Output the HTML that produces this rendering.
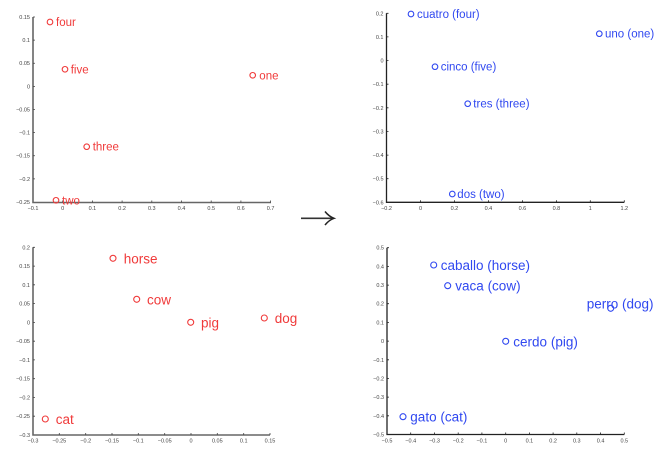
<!DOCTYPE html>
<html><head><meta charset="utf-8"><style>
html,body{margin:0;padding:0;background:#fff;}
svg{display:block;}
.t{font-family:"Liberation Sans",sans-serif;font-size:5.5px;fill:#444;}
.r{font-family:"Liberation Sans",sans-serif;font-size:11.5px;fill:#f03a3a;}
.b{font-family:"Liberation Sans",sans-serif;font-size:11.5px;fill:#3048f0;}
.R{font-family:"Liberation Sans",sans-serif;font-size:13.5px;fill:#f03a3a;}
.B{font-family:"Liberation Sans",sans-serif;font-size:13.5px;fill:#3048f0;}
.cr{fill:none;stroke:#f03a3a;stroke-width:1.1;}
.cb{fill:none;stroke:#3048f0;stroke-width:1.1;}
</style></head><body>
<svg width="671" height="468" viewBox="0 0 671 468" xmlns="http://www.w3.org/2000/svg">
<!-- Panel 1 -->
<g>
<path d="M33,17V202.5H271" fill="none" stroke="#666" stroke-width="1.6"/>
<path d="M62.7,202.5v-2M92.4,202.5v-2M122.1,202.5v-2M151.8,202.5v-2M181.5,202.5v-2M211.2,202.5v-2M240.9,202.5v-2M270.6,202.5v-2M33,17h2M33,40.1h2M33,63.25h2M33,86.4h2M33,109.5h2M33,132.6h2M33,155.75h2M33,178.9h2" stroke="#444" stroke-width="0.8"/>
<g class="t" text-anchor="end">
<text x="30" y="19">0.15</text><text x="30" y="42.1">0.1</text><text x="30" y="65.2">0.05</text><text x="30" y="88.4">0</text><text x="30" y="111.5">−0.05</text><text x="30" y="134.6">−0.1</text><text x="30" y="157.7">−0.15</text><text x="30" y="180.9">−0.2</text><text x="30" y="204">−0.25</text>
</g>
<g class="t" text-anchor="middle">
<text x="33" y="210">−0.1</text><text x="62.7" y="210">0</text><text x="92.4" y="210">0.1</text><text x="122.1" y="210">0.2</text><text x="151.8" y="210">0.3</text><text x="181.5" y="210">0.4</text><text x="211.2" y="210">0.5</text><text x="240.9" y="210">0.6</text><text x="270.6" y="210">0.7</text>
</g>
<circle class="cr" cx="50" cy="22" r="2.8"/><text class="r" x="56" y="26">four</text>
<circle class="cr" cx="65" cy="69.3" r="2.8"/><text class="r" x="70.7" y="73.3">five</text>
<circle class="cr" cx="252.7" cy="75.3" r="2.8"/><text class="r" x="259.3" y="79.3">one</text>
<circle class="cr" cx="86.7" cy="146.7" r="2.8"/><text class="r" x="92.7" y="150.7">three</text>
<circle class="cr" cx="56" cy="200.3" r="2.8"/><text class="r" x="62" y="204.3">two</text>
</g>

<!-- Arrow -->
<path d="M301,218.3H332" stroke="#333" stroke-width="1.6"/>
<path d="M325,211.5Q329,216.5 334,218.3Q329,220 325,225" fill="none" stroke="#222" stroke-width="1.5"/>

<!-- Panel 2 -->
<g>
<path d="M386.5,13.3V202.3H624.3" fill="none" stroke="#222" stroke-width="1.3"/>
<path d="M420.5,202.3v-2M454.4,202.3v-2M488.4,202.3v-2M522.4,202.3v-2M556.4,202.3v-2M590.3,202.3v-2M624.3,202.3v-2M386.5,13.3h2M386.5,36.9h2M386.5,60.6h2M386.5,84.2h2M386.5,107.8h2M386.5,131.4h2M386.5,155.1h2M386.5,178.7h2" stroke="#222" stroke-width="0.8"/>
<g class="t" text-anchor="end">
<text x="383.5" y="15.3">0.2</text><text x="383.5" y="38.9">0.1</text><text x="383.5" y="62.6">0</text><text x="383.5" y="86.2">−0.1</text><text x="383.5" y="109.8">−0.2</text><text x="383.5" y="133.4">−0.3</text><text x="383.5" y="157.1">−0.4</text><text x="383.5" y="180.7">−0.5</text><text x="383.5" y="204.3">−0.6</text>
</g>
<g class="t" text-anchor="middle">
<text x="386.5" y="209.8">−0.2</text><text x="420.5" y="209.8">0</text><text x="454.4" y="209.8">0.2</text><text x="488.4" y="209.8">0.4</text><text x="522.4" y="209.8">0.6</text><text x="556.4" y="209.8">0.8</text><text x="590.3" y="209.8">1</text><text x="624.3" y="209.8">1.2</text>
</g>
<circle class="cb" cx="411" cy="14" r="2.8"/><text class="b" x="417" y="18">cuatro (four)</text>
<circle class="cb" cx="599.3" cy="33.7" r="2.8"/><text class="b" x="605" y="37.7">uno (one)</text>
<circle class="cb" cx="435" cy="66.7" r="2.8"/><text class="b" x="440.7" y="70.7">cinco (five)</text>
<circle class="cb" cx="467.7" cy="103.7" r="2.8"/><text class="b" x="473.3" y="107.7">tres (three)</text>
<circle class="cb" cx="452.3" cy="194" r="2.8"/><text class="b" x="457.3" y="198">dos (two)</text>
</g>

<!-- Panel 3 -->
<g>
<path d="M33,247.3V435H270" fill="none" stroke="#666" stroke-width="1.6"/>
<path d="M59.3,435v-2M85.7,435v-2M112,435v-2M138.3,435v-2M164.7,435v-2M191,435v-2M217.3,435v-2M243.7,435v-2M270,435v-2M33,247.3h2M33,266.1h2M33,284.8h2M33,303.6h2M33,322.4h2M33,341.2h2M33,359.9h2M33,378.7h2M33,397.5h2M33,416.2h2" stroke="#444" stroke-width="0.8"/>
<g class="t" text-anchor="end">
<text x="30" y="249.3">0.2</text><text x="30" y="268.1">0.15</text><text x="30" y="286.8">0.1</text><text x="30" y="305.6">0.05</text><text x="30" y="324.4">0</text><text x="30" y="343.2">−0.05</text><text x="30" y="361.9">−0.1</text><text x="30" y="380.7">−0.15</text><text x="30" y="399.5">−0.2</text><text x="30" y="418.2">−0.25</text><text x="30" y="437">−0.3</text>
</g>
<g class="t" text-anchor="middle">
<text x="33" y="442.5">−0.3</text><text x="59.3" y="442.5">−0.25</text><text x="85.7" y="442.5">−0.2</text><text x="112" y="442.5">−0.15</text><text x="138.3" y="442.5">−0.1</text><text x="164.7" y="442.5">−0.05</text><text x="191" y="442.5">0</text><text x="217.3" y="442.5">0.05</text><text x="243.7" y="442.5">0.1</text><text x="270" y="442.5">0.15</text>
</g>
<circle class="cr" cx="113" cy="258.3" r="3"/><text class="R" x="123.7" y="263.3">horse</text>
<circle class="cr" cx="136.7" cy="299.3" r="3"/><text class="R" x="147" y="304.3">cow</text>
<circle class="cr" cx="190.7" cy="322.3" r="3"/><text class="R" x="201" y="327.3">pig</text>
<circle class="cr" cx="264.3" cy="318" r="3"/><text class="R" x="274.7" y="323">dog</text>
<circle class="cr" cx="45.3" cy="419" r="3"/><text class="R" x="55.7" y="424">cat</text>
</g>

<!-- Panel 4 -->
<g>
<path d="M387,247.7V434.5H624.3" fill="none" stroke="#222" stroke-width="1.3"/>
<path d="M410.7,434.5v-2M434.5,434.5v-2M458.2,434.5v-2M481.9,434.5v-2M505.7,434.5v-2M529.4,434.5v-2M553.1,434.5v-2M576.8,434.5v-2M600.6,434.5v-2M624.3,434.5v-2M387,247.7h2M387,266.4h2M387,285.1h2M387,303.7h2M387,322.4h2M387,341.1h2M387,359.8h2M387,378.5h2M387,397.1h2M387,415.8h2" stroke="#222" stroke-width="0.8"/>
<g class="t" text-anchor="end">
<text x="384" y="249.7">0.5</text><text x="384" y="268.4">0.4</text><text x="384" y="287.1">0.3</text><text x="384" y="305.7">0.2</text><text x="384" y="324.4">0.1</text><text x="384" y="343.1">0</text><text x="384" y="361.8">−0.1</text><text x="384" y="380.5">−0.2</text><text x="384" y="399.1">−0.3</text><text x="384" y="417.8">−0.4</text><text x="384" y="436.5">−0.5</text>
</g>
<g class="t" text-anchor="middle">
<text x="387" y="442.5">−0.5</text><text x="410.7" y="442.5">−0.4</text><text x="434.5" y="442.5">−0.3</text><text x="458.2" y="442.5">−0.2</text><text x="481.9" y="442.5">−0.1</text><text x="505.7" y="442.5">0</text><text x="529.4" y="442.5">0.1</text><text x="553.1" y="442.5">0.2</text><text x="576.8" y="442.5">0.3</text><text x="600.6" y="442.5">0.4</text><text x="624.3" y="442.5">0.5</text>
</g>
<circle class="cb" cx="433.7" cy="265" r="3"/><text class="B" x="440.7" y="270">caballo (horse)</text>
<circle class="cb" cx="447.7" cy="285.7" r="3"/><text class="B" x="455.3" y="290.7">vaca (cow)</text>
<circle class="cb" cx="505.7" cy="341.3" r="3"/><text class="B" x="513.3" y="346.3">cerdo (pig)</text>
<circle class="cb" cx="610.7" cy="308.3" r="3"/><text class="B" x="586.7" y="308.3">perro (dog)</text>
<circle class="cb" cx="403" cy="416.7" r="3"/><text class="B" x="410.3" y="421.7">gato (cat)</text>
</g>
</svg>
</body></html>
